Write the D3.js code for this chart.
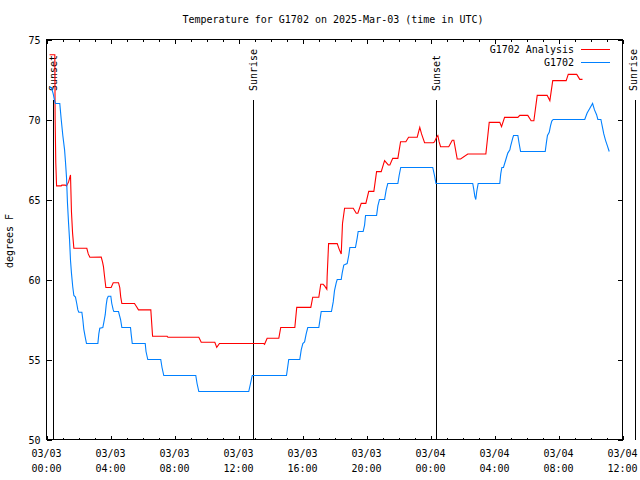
<!DOCTYPE html>
<html>
<head>
<meta charset="utf-8">
<script src="https://cdn.jsdelivr.net/npm/d3@7"></script>
<style>
  html, body { margin: 0; padding: 0; background: #fff; }
  svg text { font-family: "DejaVu Sans Mono", "Liberation Mono", monospace; font-size: 10px; fill: #000; }
</style>
</head>
<body>
<svg id="chart" width="640" height="480"></svg>
<script>
// ---------------- data (hours since 2025-03-03 00:00 UTC) ----------------
const analysisHours = [0.19,0.52,0.54,0.58,0.63,0.92,0.96,1.17,1.25,1.38,1.50,1.56,1.63,1.71,2.52,2.61,2.71,3.42,3.50,3.56,3.63,3.71,4.04,4.17,4.50,4.58,4.64,4.71,5.50,5.63,5.75,6.52,6.63,7.54,7.59,9.52,9.67,10.52,10.64,10.81,13.58,13.63,13.79,14.52,14.64,15.52,15.64,16.52,16.64,17.02,17.14,17.29,17.38,17.52,17.54,17.63,18.17,18.29,18.42,18.50,18.63,19.17,19.36,19.46,19.67,19.96,20.14,20.46,20.63,20.92,21.13,21.36,21.46,21.64,21.96,22.13,22.46,22.63,23.17,23.33,23.44,23.63,24.17,24.25,24.38,24.46,24.54,24.63,25.14,25.36,25.46,25.67,25.88,26.33,27.46,27.67,28.33,28.44,28.63,29.46,29.58,30.08,30.29,30.46,30.67,31.29,31.46,31.64,32.48,32.61,33.14,33.33,33.50];
const analysisTemps = [74.05,74.05,70.0,67.3,65.85,65.85,65.9,65.9,65.85,66.1,66.53,64.24,62.9,61.95,61.95,61.6,61.39,61.4,61.1,60.8,60.17,59.5,59.5,59.8,59.8,59.5,58.9,58.5,58.5,58.3,58.1,58.1,56.45,56.45,56.39,56.39,56.08,56.08,55.76,56.0,56.0,55.95,56.33,56.33,57.0,57.0,58.26,58.26,58.89,58.89,59.7,59.7,59.6,59.39,60.17,62.24,62.24,61.9,61.59,63.5,64.45,64.45,64.14,64.14,64.76,64.76,65.51,65.51,66.74,66.74,67.43,67.16,67.16,67.57,67.57,68.61,68.61,68.89,68.89,69.51,69.1,68.55,68.55,68.6,68.89,69.0,68.6,68.3,68.3,68.7,68.7,67.53,67.53,67.84,67.84,69.82,69.82,69.55,70.13,70.13,70.26,70.26,69.92,69.92,71.51,71.51,71.18,72.43,72.43,72.82,72.82,72.51,72.51];

const obsHours = [0.19,0.31,0.42,0.50,0.56,0.83,0.92,1.02,1.13,1.19,1.25,1.31,1.38,1.44,1.50,1.56,1.64,1.71,1.81,1.89,1.96,2.02,2.21,2.27,2.33,2.42,2.50,3.21,3.27,3.33,3.52,3.58,3.67,3.73,3.79,3.86,4.02,4.08,4.17,4.21,4.50,4.63,4.71,5.25,5.29,5.36,6.17,6.22,6.33,7.14,7.22,7.33,9.33,9.41,9.52,12.64,12.75,12.86,15.00,15.14,15.83,15.92,16.02,16.13,16.23,16.33,17.02,17.08,17.17,17.81,17.92,18.00,18.11,18.17,18.42,18.48,18.58,18.79,18.89,18.96,19.31,19.42,19.48,19.79,19.88,19.94,20.63,20.71,20.81,21.13,21.23,21.33,21.96,22.04,22.14,24.14,24.25,24.34,26.64,26.71,26.77,26.83,26.89,26.98,28.33,28.39,28.46,28.56,28.71,28.83,28.96,29.00,29.13,29.19,29.46,29.54,29.63,31.17,31.25,31.31,31.42,31.50,31.58,31.67,33.64,33.79,33.96,34.13,34.25,34.38,34.46,34.65,34.73,34.83,34.94,35.04,35.17];
const obsTemps = [72.0,72.0,71.6,71.2,71.0,71.0,70.0,69.0,68.1,67.3,66.4,64.8,63.5,62.5,61.2,60.4,59.55,59.0,58.9,58.5,58.1,57.95,57.95,57.5,56.9,56.4,56.0,56.0,56.6,56.95,57.0,57.3,57.8,58.4,58.8,58.95,58.95,58.5,58.1,58.0,58.0,57.5,57.0,57.0,56.6,56.0,56.0,55.5,55.0,55.0,54.5,54.0,54.0,53.5,53.0,53.0,53.5,54.0,54.0,55.0,55.0,55.6,56.0,56.1,56.6,57.0,57.0,57.4,58.0,58.0,58.6,59.3,59.8,60.0,60.0,60.4,60.9,61.0,61.5,62.0,62.0,62.6,63.0,63.0,63.4,64.0,64.0,64.6,65.0,65.0,65.6,66.0,66.0,66.5,67.0,67.0,66.5,66.0,66.0,65.6,65.2,65.0,65.5,66.0,66.0,66.6,67.0,67.0,67.5,67.9,68.1,68.3,68.8,69.0,69.0,68.5,68.0,68.0,68.6,69.0,69.2,69.6,69.9,70.0,70.0,70.4,70.7,71.0,70.6,70.3,70.0,70.0,69.6,69.1,68.7,68.4,68.0];

const sunEvents = [
  { hour: 0.39,  label: "Sunset" },
  { hour: 12.89, label: "Sunrise" },
  { hour: 24.34, label: "Sunset" },
  { hour: 36.80, label: "Sunrise" }
];
const yTicks = [50, 55, 60, 65, 70, 75];
const seriesNames = ["G1702 Analysis", "G1702"];
const seriesColors = ["#ff0000", "#0080ff"];
const titleText = "Temperature for G1702 on 2025-Mar-03 (time in UTC)";
const yLabel = "degrees F";

// ---------------- drawing ----------------
const t0 = Date.UTC(2025, 2, 3, 0, 0);
const toDate = h => new Date(t0 + h * 3600e3);
const L = 46.5, R = 622.5, T = 39.5, B = 439.5;

const x = d3.scaleUtc().domain([toDate(0), toDate(36)]).range([L, R]);
const y = d3.scaleLinear().domain([50, 75]).range([B, T]);

const svg = d3.select("#chart");

// title
svg.append("text").attr("x", 333).attr("y", 23).attr("text-anchor", "middle").text(titleText);

// y label
svg.append("text").attr("transform", "translate(13,241) rotate(-90)")
  .attr("text-anchor", "middle").text(yLabel);

const axStyle = g => {
  g.select(".domain").remove();
  g.selectAll("line").attr("stroke", "#000").attr("shape-rendering", "crispEdges");
};

// bottom/top minor ticks
svg.append("g").attr("transform", `translate(0,${B})`)
  .call(d3.axisBottom(x).ticks(d3.utcHour.every(1)).tickSize(-2).tickFormat(""))
  .call(axStyle);
svg.append("g").attr("transform", `translate(0,${T})`)
  .call(d3.axisTop(x).ticks(d3.utcHour.every(1)).tickSize(-2).tickFormat(""))
  .call(axStyle);
// major ticks
svg.append("g").attr("transform", `translate(0,${B})`)
  .call(d3.axisBottom(x).ticks(d3.utcHour.every(4)).tickSize(-4).tickFormat(""))
  .call(axStyle);
svg.append("g").attr("transform", `translate(0,${T})`)
  .call(d3.axisTop(x).ticks(d3.utcHour.every(4)).tickSize(-4).tickFormat(""))
  .call(axStyle);

// x labels (two lines)
const majorTicks = x.ticks(d3.utcHour.every(4));
const fDay = d3.utcFormat("%m/%d"), fTime = d3.utcFormat("%H:%M");
const xl = svg.append("g");
majorTicks.forEach(d => {
  xl.append("text").attr("x", x(d)).attr("y", 457).attr("text-anchor", "middle").text(fDay(d));
  xl.append("text").attr("x", x(d)).attr("y", 472).attr("text-anchor", "middle").text(fTime(d));
});

// y axes
svg.append("g").attr("transform", `translate(${L},0)`)
  .call(d3.axisLeft(y).tickValues(yTicks).tickSize(-5).tickPadding(6).tickFormat(d3.format("d")))
  .call(axStyle)
  .call(g => g.selectAll("text").attr("dy", "0.35em"));
svg.append("g").attr("transform", `translate(${R},0)`)
  .call(d3.axisRight(y).tickValues(yTicks).tickSize(-5).tickFormat(""))
  .call(axStyle);

// border
svg.append("rect").attr("x", L).attr("y", T).attr("width", R - L).attr("height", B - T)
  .attr("fill", "none").attr("stroke", "#000").attr("shape-rendering", "crispEdges");

// sun lines
sunEvents.forEach(ev => {
  const xx = Math.round(x(toDate(ev.hour))) + 0.5;
  svg.append("line").attr("x1", xx).attr("x2", xx).attr("y1", 100).attr("y2", B)
    .attr("stroke", "#000").attr("shape-rendering", "crispEdges");
  const tx = Math.min(xx + 3.5, 637);
  svg.append("text").attr("transform", `translate(${tx},91) rotate(-90)`)
    .attr("text-anchor", "start").text(ev.label);
});

// series
const line = d3.line().x(d => x(toDate(d[0]))).y(d => y(d[1]));
const analysis = analysisHours.map((h, i) => [h, analysisTemps[i]]);
const obs = obsHours.map((h, i) => [h, obsTemps[i]]);

[analysis, obs].forEach((data, i) => {
  svg.append("path").datum(data).attr("d", line)
    .attr("fill", "none").attr("stroke", seriesColors[i]).attr("stroke-width", 1.1);
});

// legend
seriesNames.forEach((name, i) => {
  const ly = 49.5 + i * 13;
  svg.append("text").attr("x", 574).attr("y", ly).attr("dy", "0.35em")
    .attr("text-anchor", "end").text(name);
  svg.append("line").attr("x1", 581).attr("x2", 610).attr("y1", ly).attr("y2", ly)
    .attr("stroke", seriesColors[i]).attr("shape-rendering", "crispEdges");
});
</script>
</body>
</html>
